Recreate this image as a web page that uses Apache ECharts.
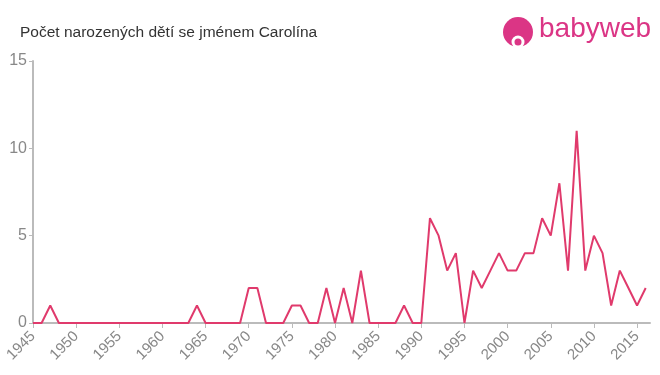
<!DOCTYPE html>
<html>
<head>
<meta charset="utf-8">
<script src="https://cdn.jsdelivr.net/npm/echarts@6/dist/echarts.min.js"></script>
<style>html,body{margin:0;padding:0;background:#fff}#c{width:660px;height:375px}</style>
</head>
<body>
<div id="c"></div>
<script>
const years = [];
for (let y = 1945; y <= 2016; y++) years.push(y);
const counts = [
  0,0,1,0,0, 0,0,0,0,0, 0,0,0,0,0, 0,0,0,0,1, // 1945-1964
  0,0,0,0,0, 2,2,0,0,0, 1,1,0,0,2, 0,2,0,3,0, // 1965-1984
  0,0,0,1,0, 0,6,5,3,4, 0,3,2,3,4, 3,3,4,4,6, // 1985-2004
  5,8,3,11,3, 5,4,1,3,2, 1,2                    // 2005-2016
];
const title = 'Počet narozených dětí se jménem Carolína';
const yTicks = [0, 5, 10, 15];

const chart = echarts.init(document.getElementById('c'), null, {renderer: 'canvas'});
chart.setOption({
  animation: false,
  backgroundColor: '#fff',
  title: {
    text: title, left: 15, top: 20,
    textStyle: {fontFamily: 'Liberation Sans, Arial, sans-serif', fontSize: 15.5, fontWeight: 'normal', color: '#333'}
  },
  graphic: [
    {type: 'circle', shape: {cx: 518, cy: 32, r: 15}, style: {fill: '#db3585'}},
    {type: 'circle', shape: {cx: 518, cy: 42, r: 6.5}, style: {fill: '#fff'}},
    {type: 'circle', shape: {cx: 518, cy: 42, r: 3.5}, style: {fill: '#db3585'}},
    {type: 'text', left: 539, top: 15, style: {text: 'babyweb', fill: '#db3585', font: '28px "Liberation Sans", Arial, sans-serif'}}
  ],
  grid: {left: 33, right: 10, top: 61, bottom: 52, containLabel: false},
  xAxis: {
    type: 'value', min: 1945, max: 2016.5, interval: 5,
    axisLine: {show: true, lineStyle: {color: '#bbb', width: 2}},
    axisTick: {show: true, length: 5, lineStyle: {color: '#bbb'}},
    splitLine: {show: false},
    axisLabel: {rotate: 45, color: '#888', fontSize: 15, fontFamily: 'Liberation Sans, Arial, sans-serif', margin: 11, showMaxLabel: false, formatter: v => String(v)}
  },
  yAxis: {
    type: 'value', min: yTicks[0], max: yTicks[yTicks.length-1], interval: 5,
    axisLine: {show: true, lineStyle: {color: '#bbb', width: 2}},
    axisTick: {show: true, length: 4, lineStyle: {color: '#bbb'}},
    splitLine: {show: false},
    axisLabel: {color: '#888', fontSize: 16, fontFamily: 'Liberation Sans, Arial, sans-serif', margin: 6}
  },
  series: [{
    type: 'line',
    data: years.map((y, i) => [y, counts[i]]),
    symbol: 'none',
    lineStyle: {color: '#e03a6c', width: 2},
    z: 1
  }]
});
</script>
</body>
</html>
